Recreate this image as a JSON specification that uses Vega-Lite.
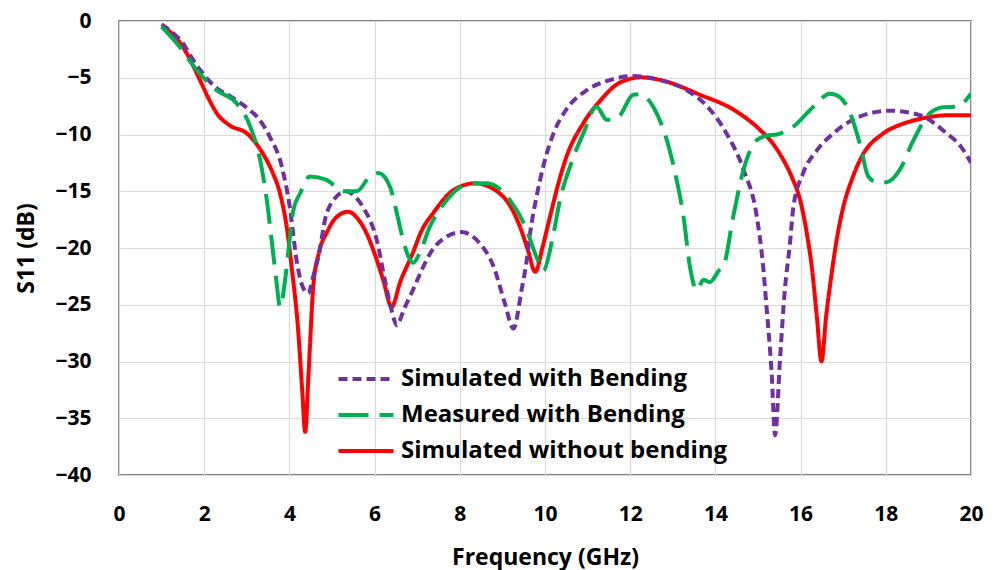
{
  "$schema": "https://vega.github.io/schema/vega-lite/v6.json",
  "width": 852,
  "height": 454,
  "autosize": {"type": "none"},
  "padding": {"left": 119, "top": 21, "right": 23, "bottom": 95},
  "background": "white",
  "config": {
    "font": "Open Sans",
    "view": {"stroke": "#595959", "strokeWidth": 1.5},
    "axis": {"labelFont": "Open Sans", "titleFont": "Open Sans", "labelFontWeight": "bold", "titleFontWeight": "bold", "labelColor": "#000000", "titleColor": "#000000", "labelFontSize": 21, "titleFontSize": 23, "gridColor": "#d9d9d9", "gridWidth": 1.2, "domain": false, "ticks": false, "labelFlush": false}
  },
  "datasets": {
    "curves": [
      {"f":1.0,"s":-0.5,"series":"Simulated without bending"},{"f":1.3,"s":-1.3,"series":"Simulated without bending"},{"f":1.59,"s":-2.85,"series":"Simulated without bending"},{"f":1.9,"s":-5.2,"series":"Simulated without bending"},{"f":2.1,"s":-6.8,"series":"Simulated without bending"},{"f":2.29,"s":-8.1,"series":"Simulated without bending"},{"f":2.6,"s":-9.2,"series":"Simulated without bending"},{"f":3.0,"s":-9.9,"series":"Simulated without bending"},{"f":3.38,"s":-11.7,"series":"Simulated without bending"},{"f":3.6,"s":-13.3,"series":"Simulated without bending"},{"f":3.78,"s":-15.2,"series":"Simulated without bending"},{"f":3.95,"s":-18.5,"series":"Simulated without bending"},{"f":4.05,"s":-21.6,"series":"Simulated without bending"},{"f":4.2,"s":-27,"series":"Simulated without bending"},{"f":4.3,"s":-32.5,"series":"Simulated without bending"},{"f":4.37,"s":-36.2,"series":"Simulated without bending"},{"f":4.45,"s":-31,"series":"Simulated without bending"},{"f":4.56,"s":-23.4,"series":"Simulated without bending"},{"f":4.7,"s":-20.3,"series":"Simulated without bending"},{"f":4.87,"s":-18.7,"series":"Simulated without bending"},{"f":5.1,"s":-17.3,"series":"Simulated without bending"},{"f":5.38,"s":-16.8,"series":"Simulated without bending"},{"f":5.6,"s":-17.4,"series":"Simulated without bending"},{"f":5.81,"s":-18.7,"series":"Simulated without bending"},{"f":6.0,"s":-20.5,"series":"Simulated without bending"},{"f":6.2,"s":-22.8,"series":"Simulated without bending"},{"f":6.4,"s":-25.2,"series":"Simulated without bending"},{"f":6.6,"s":-23,"series":"Simulated without bending"},{"f":6.9,"s":-20.4,"series":"Simulated without bending"},{"f":7.1,"s":-18.5,"series":"Simulated without bending"},{"f":7.38,"s":-16.9,"series":"Simulated without bending"},{"f":7.85,"s":-14.9,"series":"Simulated without bending"},{"f":8.36,"s":-14.3,"series":"Simulated without bending"},{"f":8.94,"s":-15.2,"series":"Simulated without bending"},{"f":9.2,"s":-16.4,"series":"Simulated without bending"},{"f":9.41,"s":-18.1,"series":"Simulated without bending"},{"f":9.6,"s":-20.2,"series":"Simulated without bending"},{"f":9.77,"s":-22.1,"series":"Simulated without bending"},{"f":9.95,"s":-19.8,"series":"Simulated without bending"},{"f":10.12,"s":-17.2,"series":"Simulated without bending"},{"f":10.3,"s":-14.5,"series":"Simulated without bending"},{"f":10.5,"s":-12.0,"series":"Simulated without bending"},{"f":10.9,"s":-9.0,"series":"Simulated without bending"},{"f":11.3,"s":-7.0,"series":"Simulated without bending"},{"f":11.68,"s":-5.6,"series":"Simulated without bending"},{"f":12.0,"s":-5.1,"series":"Simulated without bending"},{"f":12.23,"s":-4.96,"series":"Simulated without bending"},{"f":12.5,"s":-5.05,"series":"Simulated without bending"},{"f":12.86,"s":-5.35,"series":"Simulated without bending"},{"f":13.64,"s":-6.5,"series":"Simulated without bending"},{"f":14.42,"s":-7.8,"series":"Simulated without bending"},{"f":15.05,"s":-9.6,"series":"Simulated without bending"},{"f":15.35,"s":-10.8,"series":"Simulated without bending"},{"f":15.59,"s":-12.2,"series":"Simulated without bending"},{"f":15.8,"s":-13.8,"series":"Simulated without bending"},{"f":15.99,"s":-15.8,"series":"Simulated without bending"},{"f":16.15,"s":-18.8,"series":"Simulated without bending"},{"f":16.26,"s":-21.6,"series":"Simulated without bending"},{"f":16.38,"s":-26,"series":"Simulated without bending"},{"f":16.49,"s":-30.0,"series":"Simulated without bending"},{"f":16.6,"s":-26,"series":"Simulated without bending"},{"f":16.73,"s":-22.2,"series":"Simulated without bending"},{"f":16.85,"s":-19.2,"series":"Simulated without bending"},{"f":17.0,"s":-16.4,"series":"Simulated without bending"},{"f":17.2,"s":-14,"series":"Simulated without bending"},{"f":17.4,"s":-12.2,"series":"Simulated without bending"},{"f":17.94,"s":-9.9,"series":"Simulated without bending"},{"f":18.3,"s":-9.2,"series":"Simulated without bending"},{"f":18.72,"s":-8.7,"series":"Simulated without bending"},{"f":19.5,"s":-8.3,"series":"Simulated without bending"},{"f":20,"s":-8.3,"series":"Simulated without bending"},

      {"f":1.0,"s":-0.3,"series":"Simulated with Bending"},{"f":1.25,"s":-1.0,"series":"Simulated with Bending"},{"f":1.5,"s":-1.95,"series":"Simulated with Bending"},{"f":1.7,"s":-3.2,"series":"Simulated with Bending"},{"f":1.9,"s":-4.3,"series":"Simulated with Bending"},{"f":2.29,"s":-5.9,"series":"Simulated with Bending"},{"f":2.6,"s":-6.6,"series":"Simulated with Bending"},{"f":2.84,"s":-7.2,"series":"Simulated with Bending"},{"f":3.05,"s":-7.8,"series":"Simulated with Bending"},{"f":3.23,"s":-8.4,"series":"Simulated with Bending"},{"f":3.54,"s":-10.2,"series":"Simulated with Bending"},{"f":3.82,"s":-12.8,"series":"Simulated with Bending"},{"f":4.01,"s":-16.4,"series":"Simulated with Bending"},{"f":4.17,"s":-21.1,"series":"Simulated with Bending"},{"f":4.3,"s":-23.3,"series":"Simulated with Bending"},{"f":4.44,"s":-24.0,"series":"Simulated with Bending"},{"f":4.56,"s":-22.5,"series":"Simulated with Bending"},{"f":4.68,"s":-20.8,"series":"Simulated with Bending"},{"f":4.85,"s":-17.3,"series":"Simulated with Bending"},{"f":5.03,"s":-15.8,"series":"Simulated with Bending"},{"f":5.34,"s":-15.0,"series":"Simulated with Bending"},{"f":5.55,"s":-15.5,"series":"Simulated with Bending"},{"f":5.73,"s":-16.4,"series":"Simulated with Bending"},{"f":6.05,"s":-19.3,"series":"Simulated with Bending"},{"f":6.24,"s":-22.8,"series":"Simulated with Bending"},{"f":6.4,"s":-25.5,"series":"Simulated with Bending"},{"f":6.52,"s":-26.8,"series":"Simulated with Bending"},{"f":6.7,"s":-25.3,"series":"Simulated with Bending"},{"f":6.9,"s":-23.7,"series":"Simulated with Bending"},{"f":7.1,"s":-22,"series":"Simulated with Bending"},{"f":7.3,"s":-20.5,"series":"Simulated with Bending"},{"f":7.69,"s":-19.0,"series":"Simulated with Bending"},{"f":8.04,"s":-18.6,"series":"Simulated with Bending"},{"f":8.47,"s":-19.6,"series":"Simulated with Bending"},{"f":8.79,"s":-21.6,"series":"Simulated with Bending"},{"f":9.06,"s":-24.9,"series":"Simulated with Bending"},{"f":9.26,"s":-27.1,"series":"Simulated with Bending"},{"f":9.45,"s":-23.7,"series":"Simulated with Bending"},{"f":9.57,"s":-21.1,"series":"Simulated with Bending"},{"f":9.65,"s":-18.7,"series":"Simulated with Bending"},{"f":9.8,"s":-15.5,"series":"Simulated with Bending"},{"f":9.96,"s":-12.8,"series":"Simulated with Bending"},{"f":10.2,"s":-9.9,"series":"Simulated with Bending"},{"f":10.5,"s":-7.8,"series":"Simulated with Bending"},{"f":10.98,"s":-6.1,"series":"Simulated with Bending"},{"f":11.53,"s":-5.2,"series":"Simulated with Bending"},{"f":12.07,"s":-4.85,"series":"Simulated with Bending"},{"f":12.7,"s":-5.2,"series":"Simulated with Bending"},{"f":13.33,"s":-6.1,"series":"Simulated with Bending"},{"f":13.8,"s":-7.5,"series":"Simulated with Bending"},{"f":14.26,"s":-9.9,"series":"Simulated with Bending"},{"f":14.66,"s":-13.1,"series":"Simulated with Bending"},{"f":14.97,"s":-17.2,"series":"Simulated with Bending"},{"f":15.12,"s":-21.6,"series":"Simulated with Bending"},{"f":15.2,"s":-25.2,"series":"Simulated with Bending"},{"f":15.32,"s":-31.0,"series":"Simulated with Bending"},{"f":15.4,"s":-36.5,"series":"Simulated with Bending"},{"f":15.52,"s":-29.6,"series":"Simulated with Bending"},{"f":15.63,"s":-23.7,"series":"Simulated with Bending"},{"f":15.75,"s":-19.6,"series":"Simulated with Bending"},{"f":15.83,"s":-16.4,"series":"Simulated with Bending"},{"f":16.06,"s":-13.4,"series":"Simulated with Bending"},{"f":16.38,"s":-11.4,"series":"Simulated with Bending"},{"f":16.77,"s":-9.9,"series":"Simulated with Bending"},{"f":17.4,"s":-8.4,"series":"Simulated with Bending"},{"f":18.1,"s":-7.9,"series":"Simulated with Bending"},{"f":18.8,"s":-8.3,"series":"Simulated with Bending"},{"f":19.43,"s":-9.9,"series":"Simulated with Bending"},{"f":19.75,"s":-11,"series":"Simulated with Bending"},{"f":20,"s":-12.5,"series":"Simulated with Bending"},

      {"f":1.0,"s":-0.5,"series":"Measured with Bending"},{"f":1.43,"s":-2.3,"series":"Measured with Bending"},{"f":1.82,"s":-4.3,"series":"Measured with Bending"},{"f":2.29,"s":-6.1,"series":"Measured with Bending"},{"f":2.76,"s":-7.25,"series":"Measured with Bending"},{"f":3.08,"s":-9.3,"series":"Measured with Bending"},{"f":3.31,"s":-12.2,"series":"Measured with Bending"},{"f":3.47,"s":-15.8,"series":"Measured with Bending"},{"f":3.62,"s":-20.5,"series":"Measured with Bending"},{"f":3.7,"s":-23.1,"series":"Measured with Bending"},{"f":3.78,"s":-25.2,"series":"Measured with Bending"},{"f":3.9,"s":-22.8,"series":"Measured with Bending"},{"f":3.97,"s":-20.5,"series":"Measured with Bending"},{"f":4.09,"s":-16.7,"series":"Measured with Bending"},{"f":4.25,"s":-15.2,"series":"Measured with Bending"},{"f":4.48,"s":-13.7,"series":"Measured with Bending"},{"f":4.87,"s":-14.0,"series":"Measured with Bending"},{"f":5.27,"s":-15.0,"series":"Measured with Bending"},{"f":5.58,"s":-15.0,"series":"Measured with Bending"},{"f":5.89,"s":-13.7,"series":"Measured with Bending"},{"f":6.09,"s":-13.4,"series":"Measured with Bending"},{"f":6.36,"s":-14.6,"series":"Measured with Bending"},{"f":6.52,"s":-16.9,"series":"Measured with Bending"},{"f":6.67,"s":-19.3,"series":"Measured with Bending"},{"f":6.8,"s":-20.8,"series":"Measured with Bending"},{"f":6.91,"s":-21.3,"series":"Measured with Bending"},{"f":7.05,"s":-20.5,"series":"Measured with Bending"},{"f":7.3,"s":-18.1,"series":"Measured with Bending"},{"f":7.69,"s":-15.8,"series":"Measured with Bending"},{"f":8.16,"s":-14.4,"series":"Measured with Bending"},{"f":8.63,"s":-14.3,"series":"Measured with Bending"},{"f":9.18,"s":-15.8,"series":"Measured with Bending"},{"f":9.57,"s":-18.4,"series":"Measured with Bending"},{"f":9.8,"s":-20.8,"series":"Measured with Bending"},{"f":9.96,"s":-22.0,"series":"Measured with Bending"},{"f":10.2,"s":-18.7,"series":"Measured with Bending"},{"f":10.35,"s":-15.8,"series":"Measured with Bending"},{"f":10.59,"s":-12.8,"series":"Measured with Bending"},{"f":10.9,"s":-9.9,"series":"Measured with Bending"},{"f":11.21,"s":-7.55,"series":"Measured with Bending"},{"f":11.45,"s":-8.7,"series":"Measured with Bending"},{"f":11.6,"s":-8.7,"series":"Measured with Bending"},{"f":11.76,"s":-8.3,"series":"Measured with Bending"},{"f":12.07,"s":-6.5,"series":"Measured with Bending"},{"f":12.23,"s":-6.46,"series":"Measured with Bending"},{"f":12.54,"s":-7.55,"series":"Measured with Bending"},{"f":12.86,"s":-10.5,"series":"Measured with Bending"},{"f":13.09,"s":-14.0,"series":"Measured with Bending"},{"f":13.25,"s":-17.2,"series":"Measured with Bending"},{"f":13.4,"s":-21.6,"series":"Measured with Bending"},{"f":13.56,"s":-23.7,"series":"Measured with Bending"},{"f":13.72,"s":-22.8,"series":"Measured with Bending"},{"f":13.87,"s":-23.0,"series":"Measured with Bending"},{"f":14.1,"s":-21.9,"series":"Measured with Bending"},{"f":14.19,"s":-21.6,"series":"Measured with Bending"},{"f":14.42,"s":-17.2,"series":"Measured with Bending"},{"f":14.66,"s":-13.1,"series":"Measured with Bending"},{"f":14.97,"s":-10.5,"series":"Measured with Bending"},{"f":15.2,"s":-10.1,"series":"Measured with Bending"},{"f":15.44,"s":-10.0,"series":"Measured with Bending"},{"f":15.83,"s":-9.3,"series":"Measured with Bending"},{"f":16.3,"s":-7.55,"series":"Measured with Bending"},{"f":16.69,"s":-6.4,"series":"Measured with Bending"},{"f":16.92,"s":-6.7,"series":"Measured with Bending"},{"f":17.16,"s":-8.1,"series":"Measured with Bending"},{"f":17.39,"s":-10.8,"series":"Measured with Bending"},{"f":17.59,"s":-13.7,"series":"Measured with Bending"},{"f":17.79,"s":-14.2,"series":"Measured with Bending"},{"f":18.02,"s":-14.2,"series":"Measured with Bending"},{"f":18.33,"s":-13.1,"series":"Measured with Bending"},{"f":18.65,"s":-10.5,"series":"Measured with Bending"},{"f":19.04,"s":-8.1,"series":"Measured with Bending"},{"f":19.35,"s":-7.6,"series":"Measured with Bending"},{"f":19.66,"s":-7.55,"series":"Measured with Bending"},{"f":20,"s":-6.4,"series":"Measured with Bending"}
    ]
  },
  "data": {"name": "curves"},
  "mark": {"type": "line", "strokeWidth": 4, "interpolate": "monotone", "clip": true},
  "encoding": {
    "x": {"field": "f", "type": "quantitative", "title": "Frequency (GHz)", "scale": {"domain": [0, 20], "nice": false}, "axis": {"values": [0,2,4,6,8,10,12,14,16,18,20], "labelPadding": 28, "titlePadding": 22}},
    "y": {"field": "s", "type": "quantitative", "title": "S11 (dB)", "scale": {"domain": [-40, 0], "nice": false}, "axis": {"values": [-40,-35,-30,-25,-20,-15,-10,-5,0], "labelPadding": 28, "titlePadding": 16}},
    "color": {"field": "series", "type": "nominal", "title": null,
      "scale": {"domain": ["Simulated with Bending", "Measured with Bending", "Simulated without bending"], "range": ["#7030A0", "#00B050", "#FF0000"]},
      "legend": {"orient": "none", "legendX": 235, "legendY": 346, "symbolType": "M-5.5,0H5.5", "symbolSize": 100, "symbolStrokeWidth": 4, "symbolFillColor": "transparent", "labelFont": "Open Sans", "labelFontSize": 24, "labelFontWeight": "bold", "labelColor": "#000000", "labelOffset": 23, "rowPadding": 12, "labelLimit": 600}},
    "strokeDash": {"field": "series", "type": "nominal",
      "scale": {"domain": ["Simulated with Bending", "Measured with Bending", "Simulated without bending"], "range": [[9, 5], [30, 11], [1, 0]]}},
    "order": {"field": "f", "type": "quantitative"}
  }
}
